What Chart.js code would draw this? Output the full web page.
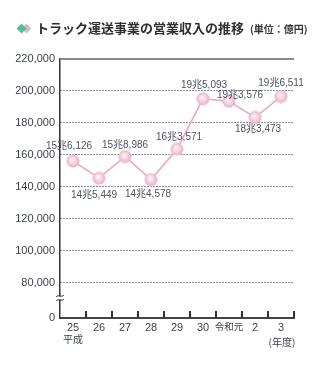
<!DOCTYPE html>
<html lang="ja">
<head>
<meta charset="utf-8">
<title>トラック運送事業の営業収入の推移</title>
<script src="https://cdn.jsdelivr.net/npm/chart.js@4.4.1/dist/chart.umd.min.js"></script>
<style>
    html, body { margin: 0; padding: 0; background: #fff; }
    #wrap { position: relative; width: 332px; height: 371px; overflow: hidden; }
    #chart { position: absolute; left: 0; top: 0; }
    .title { position: absolute; left: 36px; top: 20px; font-family: "Noto Sans CJK JP", sans-serif; font-weight: bold; font-size: 13px; line-height: 16px; color: #2e2e2e; white-space: nowrap; }
    .unit { position: absolute; left: 250px; top: 22px; font-family: "Noto Sans CJK JP", sans-serif; font-weight: bold; font-size: 10px; line-height: 13px; color: #333; white-space: nowrap; }
    .dia { position: absolute; width: 7px; height: 7px; transform: rotate(45deg); }
    .dia.gray { left: 23px; top: 25px; background: #c4c4c4; }
    .dia.green { left: 18px; top: 25px; background: #4eb585; opacity: 0.92; }
</style>
</head>
<body>
<div id="wrap">
    <canvas id="chart" width="332" height="371"></canvas>
    <div class="dia gray"></div>
    <div class="dia green"></div>
    <div class="title">トラック運送事業の営業収入の推移</div>
    <div class="unit">(単位：億円)</div>
</div>
<script>
// fiscal years (平成25 .. 令和3)
const years = ['25', '26', '27', '28', '29', '30', '令和元', '2', '3'];
// operating revenue, 億円
const revenue = [156126, 145449, 158986, 144578, 163571, 195093, 193576, 183473, 196511];
const valueLabels = ['15兆6,126', '14兆5,449', '15兆8,986', '14兆4,578', '16兆3,571',
    '19兆5,093', '19兆3,576', '18兆3,473', '19兆6,511'];
const yTicks = [0, 80000, 100000, 120000, 140000, 160000, 180000, 200000, 220000];

// axis is broken between 0 and 80,000: "0" sits at this value
const AXIS_FLOOR = 58000;
const Y_MAX = 220000;

// label offsets from each point (dx, dy)
const labelOffsets = [[-4, -15], [-5, 17], [0, -11], [-3, 15], [2, -12],
    [1, -14], [11, -6], [3, 12], [0, -13]];

const TEXT_COLOR = '#3a3f4f';
const LABEL_COLOR = '#4b5164';
const FONT = '"Liberation Sans", Arial, "Noto Sans CJK JP", sans-serif';
const CJK_FONT = '"Noto Sans CJK JP", sans-serif';

// Marker image - pink ball with highlight
function makeMarker() {
    const c = document.createElement('canvas');
    c.width = 14; c.height = 14;
    const g = c.getContext('2d');
    const grad = g.createRadialGradient(6, 5.5, 0.5, 7, 7, 7);
    grad.addColorStop(0, '#fdf4f8');
    grad.addColorStop(0.45, '#f6d3e1');
    grad.addColorStop(1, '#eaaac4');
    g.fillStyle = grad;
    g.beginPath();
    g.arc(7, 7, 6.5, 0, Math.PI * 2);
    g.fill();
    return c;
}

function formatNumber(num) {
    return num.toString().replace(/\B(?=(\d{3})+(?!\d))/g, ',');
}

// Extra drawings: top line, broken axis mark, inner ticks, value labels, notes
const decorations = {
    id: 'decorations',
    beforeDatasetsDraw(chart) {
        const { ctx, chartArea } = chart;
        ctx.save();
        // top border line
        ctx.strokeStyle = '#8a8a8a';
        ctx.lineWidth = 2;
        ctx.beginPath();
        ctx.moveTo(chartArea.left, chartArea.top);
        ctx.lineTo(chartArea.right, chartArea.top);
        ctx.stroke();

        // break mark on the y axis
        const by = chartArea.bottom - 20;
        ctx.fillStyle = '#fff';
        ctx.fillRect(chartArea.left - 2, by - 1.5, 4, 3);
        ctx.strokeStyle = '#333';
        ctx.lineWidth = 1;
        [by - 2, by + 2].forEach(yy => {
            ctx.beginPath();
            ctx.moveTo(chartArea.left - 4, yy + 1);
            ctx.bezierCurveTo(chartArea.left - 2, yy - 2, chartArea.left + 2, yy + 2, chartArea.left + 4, yy - 1);
            ctx.stroke();
        });
        ctx.restore();
    },
    afterDraw(chart) {
        const { ctx, chartArea, scales } = chart;
        const meta = chart.getDatasetMeta(0);
        ctx.save();

        // inner tick marks on the x axis (category boundaries)
        ctx.fillStyle = '#333';
        const axisY = Math.round(chartArea.bottom);
        for (let i = 1; i <= years.length; i++) {
            const px = Math.round(scales.x.getPixelForValue(i - 0.5));
            ctx.fillRect(px - 1, axisY - 7, 2, 7);
        }

        // value labels
        ctx.fillStyle = LABEL_COLOR;
        ctx.textAlign = 'center';
        ctx.textBaseline = 'middle';
        ctx.font = '10px ' + FONT;
        meta.data.forEach((pt, i) => {
            const [dx, dy] = labelOffsets[i];
            ctx.fillText(valueLabels[i], pt.x + dx, pt.y + dy);
        });

        // era / unit notes under the x axis
        ctx.fillStyle = TEXT_COLOR;
        ctx.font = '10px ' + CJK_FONT;
        ctx.fillText('平成', scales.x.getPixelForTick(0), chartArea.bottom + 21);
        ctx.fillText('(年度)', scales.x.getPixelForTick(years.length - 1) + 1, chartArea.bottom + 24);
        ctx.restore();
    }
};

document.addEventListener('DOMContentLoaded', function() {
    const ctx = document.getElementById('chart');

    new Chart(ctx.getContext('2d'), {
        type: 'line',
        data: {
            labels: years,
            datasets: [{
                data: revenue,
                borderColor: '#eba5bf',
                borderWidth: 1.5,
                tension: 0,
                pointStyle: makeMarker(),
                pointRadius: 7,
                pointHoverRadius: 7
            }]
        },
        options: {
            responsive: false,
            animation: false,
            events: [],
            layout: { padding: { top: 59, right: 38, left: 0, bottom: 0 } },
            plugins: {
                legend: { display: false },
                tooltip: { enabled: false }
            },
            scales: {
                x: {
                    offset: true,
                    grid: { display: false, drawTicks: false },
                    border: { display: true, color: '#444', width: 2 },
                    ticks: {
                        color: TEXT_COLOR,
                        font(c) {
                            return c.index === 6
                                ? { family: CJK_FONT, size: 9.5 }
                                : { family: FONT, size: 11 };
                        },
                        padding: 3,
                        maxRotation: 0,
                        autoSkip: false
                    },
                    afterFit(scale) { scale.height = 53; }
                },
                y: {
                    min: AXIS_FLOOR,
                    max: Y_MAX,
                    afterBuildTicks(scale) {
                        scale.ticks = yTicks.map(v => ({ value: v === 0 ? AXIS_FLOOR : v }));
                    },
                    afterFit(scale) { scale.width = 60; },
                    border: {
                        display: true,
                        color: '#333',
                        width: 1.5,
                        dash: [1, 2]
                    },
                    grid: {
                        drawTicks: false,
                        lineWidth: 1,
                        color(c) {
                            const v = c.tick && c.tick.value;
                            if (v === AXIS_FLOOR || v === Y_MAX) return 'rgba(0,0,0,0)';
                            return '#222';
                        }
                    },
                    ticks: {
                        color: TEXT_COLOR,
                        font: { family: FONT, size: 11 },
                        padding: 5,
                        callback(value) {
                            return value === AXIS_FLOOR ? '0' : formatNumber(value);
                        }
                    }
                }
            }
        },
        plugins: [decorations]
    });
});
</script>
</body>
</html>
